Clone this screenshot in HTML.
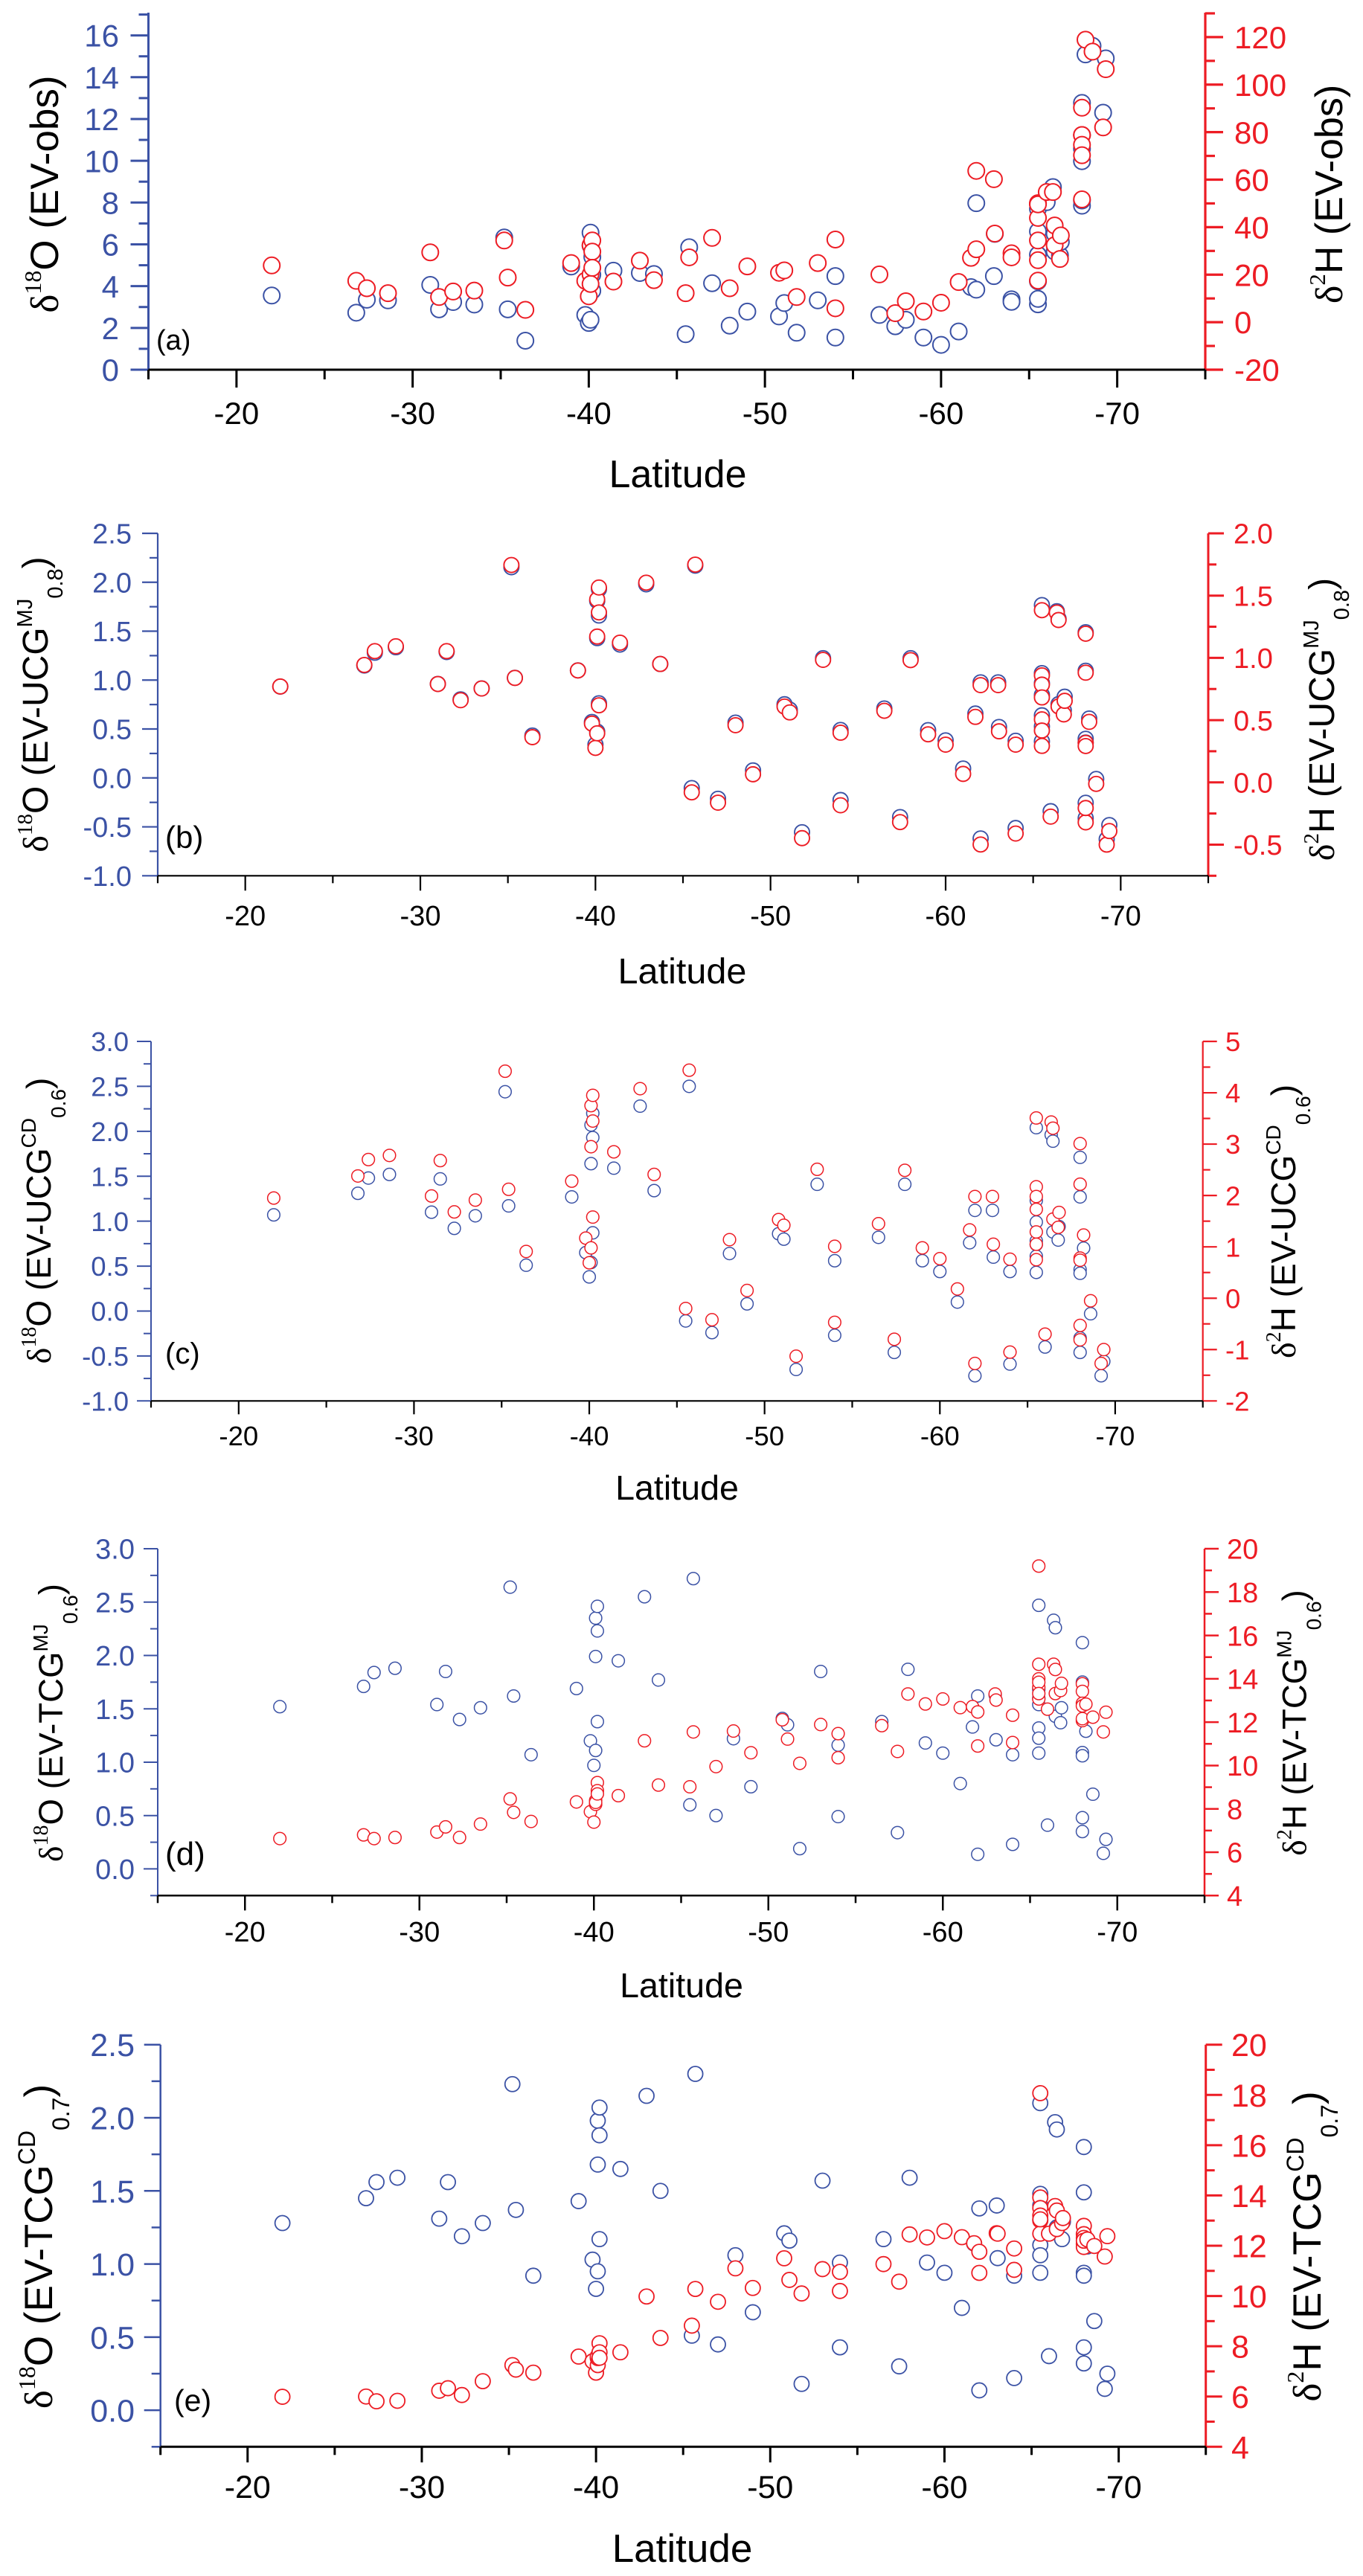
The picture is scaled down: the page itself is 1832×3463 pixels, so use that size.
<!DOCTYPE html>
<html lang="en">
<head>
<meta charset="utf-8">
<title>Isotope differences versus latitude</title>
<style>
html,body{margin:0;padding:0;background:#fff;}
svg{display:block;font-family:"Liberation Sans",sans-serif;}
.s{font-family:"Liberation Serif",serif;}
</style>
</head>
<body>
<svg id="figure" xmlns="http://www.w3.org/2000/svg" width="1832" height="3463" viewBox="0 0 1832 3463">
<rect x="0" y="0" width="1832" height="3463" fill="#fff"/>

<text transform="translate(78,261) rotate(-90)" text-anchor="middle" font-size="53"><tspan class="s">δ</tspan><tspan class="s" font-size="32" dy="-23">18</tspan><tspan dy="23">O (EV-obs)</tspan></text>
<text transform="translate(1804,261) rotate(-90)" text-anchor="middle" font-size="52"><tspan class="s">δ</tspan><tspan class="s" font-size="31" dy="-23">2</tspan><tspan dy="23">H (EV-obs)</tspan></text>
<text x="911" y="655" text-anchor="middle" font-size="52">Latitude</text>
<text x="210" y="470" font-size="38">(a)</text>

<text transform="translate(64,947) rotate(-90)" text-anchor="middle" font-size="48"><tspan class="s">δ</tspan><tspan class="s" font-size="29" dy="-21">18</tspan><tspan dy="21">O (EV-UCG</tspan><tspan font-size="29" dy="-21">MJ</tspan><tspan font-size="29" dy="41">0.8</tspan><tspan dy="-20">)</tspan></text>
<text transform="translate(1793,967) rotate(-90)" text-anchor="middle" font-size="48"><tspan class="s">δ</tspan><tspan class="s" font-size="29" dy="-21">2</tspan><tspan dy="21">H (EV-UCG</tspan><tspan font-size="29" dy="-21">MJ</tspan><tspan font-size="29" dy="41">0.8</tspan><tspan dy="-20">)</tspan></text>
<text x="917" y="1322" text-anchor="middle" font-size="48.6">Latitude</text>
<text x="222" y="1140" font-size="42">(b)</text>

<text transform="translate(68,1641) rotate(-90)" text-anchor="middle" font-size="46"><tspan class="s">δ</tspan><tspan class="s" font-size="28" dy="-20">18</tspan><tspan dy="20">O (EV-UCG</tspan><tspan font-size="28" dy="-20">CD</tspan><tspan font-size="28" dy="40">0.6</tspan><tspan dy="-20">)</tspan></text>
<text transform="translate(1741,1642) rotate(-90)" text-anchor="middle" font-size="46"><tspan class="s">δ</tspan><tspan class="s" font-size="28" dy="-20">2</tspan><tspan dy="20">H (EV-UCG</tspan><tspan font-size="28" dy="-20">CD</tspan><tspan font-size="28" dy="40">0.6</tspan><tspan dy="-20">)</tspan></text>
<text x="910" y="2016" text-anchor="middle" font-size="46.6">Latitude</text>
<text x="222" y="1833" font-size="40">(c)</text>

<text transform="translate(84,2316) rotate(-90)" text-anchor="middle" font-size="45.6"><tspan class="s">δ</tspan><tspan class="s" font-size="28" dy="-20">18</tspan><tspan dy="20">O (EV-TCG</tspan><tspan font-size="28" dy="-20">MJ</tspan><tspan font-size="28" dy="40">0.6</tspan><tspan dy="-20">)</tspan></text>
<text transform="translate(1755.5,2316) rotate(-90)" text-anchor="middle" font-size="45.6"><tspan class="s">δ</tspan><tspan class="s" font-size="28" dy="-20">2</tspan><tspan dy="20">H (EV-TCG</tspan><tspan font-size="28" dy="-20">MJ</tspan><tspan font-size="28" dy="40">0.6</tspan><tspan dy="-20">)</tspan></text>
<text x="916" y="2685" text-anchor="middle" font-size="46.6">Latitude</text>
<text x="222" y="2507" font-size="44">(d)</text>

<text transform="translate(70,3020) rotate(-90)" text-anchor="middle" font-size="53"><tspan class="s">δ</tspan><tspan class="s" font-size="32" dy="-23">18</tspan><tspan dy="23">O (EV-TCG</tspan><tspan font-size="32" dy="-23">CD</tspan><tspan font-size="32" dy="46">0.7</tspan><tspan dy="-23">)</tspan></text>
<text transform="translate(1775,3020) rotate(-90)" text-anchor="middle" font-size="53"><tspan class="s">δ</tspan><tspan class="s" font-size="32" dy="-23">2</tspan><tspan dy="23">H (EV-TCG</tspan><tspan font-size="32" dy="-23">CD</tspan><tspan font-size="32" dy="46">0.7</tspan><tspan dy="-23">)</tspan></text>
<text x="917" y="3444" text-anchor="middle" font-size="53">Latitude</text>
<text x="234" y="3241" font-size="41">(e)</text>
</svg>

<script>
const latitudes = [22,26.8,27.4,28.6,31,31.5,32.3,33.5,35.2,35.4,36.4,39,39.8,40,40.1,40.1,40.1,40.2,40.2,40.2,41.4,42.9,43.7,45.5,45.7,47,48,49,50.8,51.1,51.8,53,54,54,56.5,57.4,58,59,60,61,61.7,62,62,63,63.05,64,64,65.5,65.5,65.5,65.5,65.5,65.5,65.5,66,66.35,66.45,66.45,66.75,66.8,68,68,68,68,68,68,68.2,68.6,69.2,69.35];

const xTickLabels = ['-20','-30','-40','-50','-60','-70'];

const o18PanelA = [3.55,2.73,3.35,3.32,4.06,2.89,3.24,3.12,6.33,2.89,1.39,4.94,2.62,2.24,6.56,5.94,2.39,5.4,4.55,3.78,4.74,4.63,4.58,1.70,5.86,4.14,2.11,2.78,2.55,3.19,1.77,3.32,4.48,1.54,2.62,2.08,2.39,1.54,1.19,1.83,3.95,7.97,3.83,4.48,6.5,3.37,3.25,3.13,3.39,4.23,5.5,6.62,7.93,7.7,8.02,8.74,5.66,6.5,5.47,6.12,12.77,11.23,10.58,9.98,7.85,8.1,15.09,15.5,12.3,14.9];
const h2PanelA = [23.9,17.4,14.3,12.2,29.4,10.6,12.9,13.3,34.4,18.8,5.2,24.9,17.4,10.9,32.4,20.1,16.1,34.4,29.7,22.9,17.1,25.9,17.7,12.2,27.3,35.5,14.3,23.5,20.8,21.8,10.6,24.9,34.8,5.85,20.1,3.8,8.8,4.5,8.2,16.9,27.1,63.7,30.7,60.2,37.3,29,27.3,17.5,26.1,34.4,43.9,50.1,49.9,49.6,54.8,54.8,40.7,32.4,26.6,36.5,90.3,78.8,78.8,74.7,70.3,51.7,118.9,113.9,82,106.5];
const leftTickLabelsA = ['0','2','4','6','8','10','12','14','16'];
const rightTickLabelsA = ['-20','0','20','40','60','80','100','120'];

const o18PanelB = [.934,1.149,1.28,1.336,.961,1.287,.803,.915,2.154,1.023,.433,1.099,.572,.341,1.808,1.429,.473,1.93,1.66,.763,1.363,1.979,1.165,-.104,2.17,-.213,.565,.077,.753,.697,-.555,1.224,.49,-.226,.71,-.40,1.224,.488,.384,.096,.658,.977,-.619,.977,.521,.38,-.512,1.767,1.071,.97,.848,.64,.526,.374,-.34,1.704,1.628,.754,.69,.83,1.489,1.096,-.411,-.254,.4,.362,.607,-.011,-.626,-.482];
const h2PanelB = [.77,.943,1.054,1.093,.79,1.054,.66,.754,1.746,.839,.363,.899,.472,.277,1.469,1.171,.394,1.565,1.365,.619,1.122,1.604,.951,-.08,1.749,-.163,.459,.065,.609,.562,-.448,.984,.399,-.184,.575,-.319,.982,.386,.303,.068,.526,.781,-.499,.781,.41,.303,-.411,1.383,.859,.785,.682,.506,.416,.293,-.275,1.364,1.304,.61,.546,.655,1.194,.881,-.321,-.206,.317,.292,.486,-.012,-.5,-.391];
const leftTickLabelsB = ['-1.0','-0.5','0.0','0.5','1.0','1.5','2.0','2.5'];
const rightTickLabelsB = ['-0.5','0.0','0.5','1.0','1.5','2.0'];

const o18PanelC = [1.07,1.31,1.48,1.52,1.10,1.47,.92,1.06,2.44,1.17,.51,1.27,.65,.38,2.07,1.64,.54,2.20,1.93,.87,1.59,2.28,1.34,-.11,2.50,-.24,.64,.08,.86,.80,-.65,1.41,.56,-.27,.82,-.46,1.41,.56,.44,.10,.76,1.12,-.72,1.12,.60,.44,-.59,2.04,1.23,.99,.74,.61,.43,.78,-.40,1.96,1.89,.88,.79,.94,1.71,1.27,.46,.42,-.30,-.46,.70,-.03,-.72,-.56];
const h2PanelC = [1.95,2.38,2.70,2.78,1.99,2.68,1.68,1.91,4.42,2.12,.91,2.28,1.17,.69,3.75,2.95,.98,3.95,3.45,1.58,2.85,4.08,2.41,-.2,4.44,-.42,1.14,.15,1.53,1.42,-1.13,2.51,1.01,-.47,1.45,-.8,2.49,.98,.77,.18,1.33,1.98,-1.27,1.98,1.05,.76,-1.05,3.51,2.17,1.98,1.73,1.29,1.05,.75,-.70,3.43,3.31,1.54,1.38,1.67,3.01,2.22,.78,.74,-.53,-.81,1.23,-.05,-1.27,-1.0];
const leftTickLabelsC = ['-1.0','-0.5','0.0','0.5','1.0','1.5','2.0','2.5','3.0'];
const rightTickLabelsC = ['-2','-1','0','1','2','3','4','5'];

const o18PanelD = [1.52,1.71,1.84,1.88,1.54,1.85,1.40,1.51,2.64,1.62,1.07,1.69,1.20,.97,2.35,1.99,1.11,2.46,2.23,1.38,1.95,2.55,1.77,.60,2.72,.50,1.22,.77,1.41,1.35,.19,1.85,1.16,.49,1.38,.34,1.87,1.18,1.085,.80,1.33,1.62,.137,1.63,1.21,1.07,.23,2.47,1.68,1.54,1.32,1.225,1.085,1.6,.41,2.33,2.26,1.43,1.37,1.51,2.12,1.75,1.09,1.06,.48,.35,1.29,.70,.146,.277];
const h2PanelD = [6.63,6.8,6.63,6.68,6.93,7.17,6.68,7.3,8.46,7.84,7.42,8.32,7.87,7.39,8.39,8.21,8.3,9.21,8.84,8.69,8.61,11.14,9.1,9.02,11.55,9.95,11.59,10.59,12.11,11.22,10.1,11.89,11.47,10.36,11.84,10.65,13.3,12.84,13.07,12.67,12.72,12.47,10.9,13.3,13.02,12.32,11.06,19.2,14.67,14.0,13.61,13.07,13.84,13.32,12.6,14.67,14.43,13.32,13.46,13.79,13.77,13.42,12.87,12.07,12.16,12.75,12.83,12.23,11.55,12.46];
const leftTickLabelsD = ['0.0','0.5','1.0','1.5','2.0','2.5','3.0'];
const rightTickLabelsD = ['4','6','8','10','12','14','16','18','20'];

const o18PanelE = [1.28,1.45,1.56,1.59,1.31,1.56,1.19,1.28,2.23,1.37,.92,1.43,1.03,.83,1.98,1.68,.95,2.07,1.88,1.17,1.65,2.15,1.50,.51,2.30,.45,1.06,.67,1.21,1.16,.18,1.57,1.01,.43,1.17,.30,1.59,1.01,.94,.70,1.14,1.38,.136,1.40,1.04,.92,.22,2.10,1.48,1.40,1.13,1.06,.94,1.30,.37,1.97,1.92,1.25,1.17,1.29,1.80,1.49,.94,.92,.43,.32,1.12,.61,.146,.25];
const h2PanelE = [5.99,6.0,5.81,5.83,6.23,6.33,6.06,6.61,7.25,7.07,6.95,7.59,7.4,6.95,7.25,7.53,7.6,8.12,7.76,7.54,7.76,9.98,8.33,8.82,10.28,9.77,11.1,10.32,11.5,10.64,10.1,11.07,10.96,10.2,11.27,10.57,12.45,12.33,12.58,12.34,12.1,11.76,10.92,12.5,12.48,11.89,11.04,18.07,13.92,13.5,13.2,13.0,12.48,13.05,12.48,13.58,13.4,12.66,12.9,13.1,12.79,12.46,12.31,12.07,11.95,12.2,12.25,11.99,11.57,12.38];
const leftTickLabelsE = ['0.0','0.5','1.0','1.5','2.0','2.5'];
const rightTickLabelsE = ['4','6','8','10','12','14','16','18','20'];

const BLUE = '#3b52a5';
const RED = '#ed1c24';
const NS = 'http://www.w3.org/2000/svg';
const svg = document.getElementById('figure');

function make(tag, attrs) {
  const node = document.createElementNS(NS, tag);
  for (const k in attrs) node.setAttribute(k, attrs[k]);
  return node;
}

function drawPanel(p) {
  const group = make('g', {});
  
  
  svg.appendChild(group);

  const xScale = lat => p.xL + (lat - 15) * (p.xR - p.xL) / 60;
  const leftScale = v => p.yB - (v - p.leftMin) * (p.yB - p.yT) / (p.leftMax - p.leftMin);
  const rightScale = v => p.yB - (v - p.rightMin) * (p.yB - p.yT) / (p.rightMax - p.rightMin);

  // left axis
  const leftAxis = make('line', {x1:p.xL, x2:p.xL, y1:p.yT, y2:p.yB, stroke:BLUE, 'stroke-width':p.lw});
  
  
  group.appendChild(leftAxis);

  const leftCount = Math.floor((p.leftMax - p.leftMin) / p.leftStep + 1e-6);
  for (let k = 0; k <= leftCount; k++) {
    const v = p.leftMin + k * p.leftStep;
    const isMajor = p.leftLabels.some(s => Math.abs(Number(s) - v) < 1e-6);
    const y = leftScale(v);
    const tick = make('line', {x1:p.xL - (isMajor ? p.major : p.minor), x2:p.xL, y1:y, y2:y, stroke:BLUE, 'stroke-width':p.lw});
    
    
    group.appendChild(tick);
  }
  p.leftLabels.forEach(s => {
    const label = make('text', {x:p.leftEnd, y:leftScale(Number(s)) + p.fs * 0.36, 'text-anchor':'end', 'font-size':p.fs, fill:BLUE});
    label.textContent = s;
    
    
    group.appendChild(label);
  });

  // right axis
  const rightAxis = make('line', {x1:p.xR, x2:p.xR, y1:p.yT, y2:p.yB, stroke:RED, 'stroke-width':p.rw});
  
  
  group.appendChild(rightAxis);

  const rightCount = Math.floor((p.rightMax - p.rightMin) / p.rightStep + 1e-6);
  for (let k = 0; k <= rightCount; k++) {
    const v = p.rightMin + k * p.rightStep;
    const isMajor = p.rightLabels.some(s => Math.abs(Number(s) - v) < 1e-6);
    const y = rightScale(v);
    const tick = make('line', {x1:p.xR, x2:p.xR + (isMajor ? p.major : p.minor), y1:y, y2:y, stroke:RED, 'stroke-width':p.rw});
    
    
    group.appendChild(tick);
  }
  p.rightLabels.forEach(s => {
    const label = make('text', {x:p.rightStart, y:rightScale(Number(s)) + p.fs * 0.36, 'font-size':p.fs, fill:RED});
    label.textContent = s;
    
    
    group.appendChild(label);
  });

  // bottom axis
  const bottomAxis = make('line', {x1:p.xL, x2:p.xR, y1:p.yB, y2:p.yB, stroke:'#000', 'stroke-width':p.bw});
  
  
  group.appendChild(bottomAxis);

  for (let lat = 15; lat <= 75; lat += 5) {
    const isMajor = xTickLabels.some(s => Number(s) === -lat);
    const tick = make('line', {x1:xScale(lat), x2:xScale(lat), y1:p.yB, y2:p.yB + (isMajor ? p.xMajor : p.xMinor), stroke:'#000', 'stroke-width':p.bw});
    
    
    group.appendChild(tick);
  }
  xTickLabels.forEach(s => {
    const label = make('text', {x:xScale(-Number(s)), y:p.xBase, 'text-anchor':'middle', 'font-size':p.fs, fill:'#000'});
    label.textContent = s;
    
    
    group.appendChild(label);
  });

  // series: blue first, red on top; markers are white filled
  latitudes.forEach((lat, i) => {
    const point = make('circle', {cx:xScale(lat), cy:leftScale(p.o18[i]), r:p.r, fill:'#fff', stroke:BLUE, 'stroke-width':p.sw});
    
    
    group.appendChild(point);
  });
  latitudes.forEach((lat, i) => {
    const point = make('circle', {cx:xScale(lat), cy:rightScale(p.h2[i]), r:p.r, fill:'#fff', stroke:RED, 'stroke-width':p.sw});
    
    
    group.appendChild(point);
  });
}

drawPanel({id:'a', xL:199.5, xR:1620, yT:17, yB:497, leftMin:0, leftMax:17.09, leftStep:1, rightMin:-20, rightMax:130.3, rightStep:10,
  o18:o18PanelA, h2:h2PanelA, leftLabels:leftTickLabelsA, rightLabels:rightTickLabelsA,
  lw:3, rw:3.2, bw:3, major:24, minor:13, xMajor:24, xMinor:13, fs:42, leftEnd:160, rightStart:1659, xBase:570, r:11, sw:2});
drawPanel({id:'b', xL:212, xR:1624, yT:717, yB:1177.3, leftMin:-1, leftMax:2.5, leftStep:0.25, rightMin:-0.75, rightMax:2, rightStep:0.25,
  o18:o18PanelB, h2:h2PanelB, leftLabels:leftTickLabelsB, rightLabels:rightTickLabelsB,
  lw:2.2, rw:3, bw:2.2, major:21, minor:11, xMajor:20, xMinor:10, fs:38, leftEnd:177, rightStart:1658, xBase:1244, r:10, sw:1.9});
drawPanel({id:'c', xL:203, xR:1616.7, yT:1400, yB:1883.3, leftMin:-1, leftMax:3, leftStep:0.25, rightMin:-2, rightMax:5, rightStep:0.5,
  o18:o18PanelC, h2:h2PanelC, leftLabels:leftTickLabelsC, rightLabels:rightTickLabelsC,
  lw:2, rw:2.2, bw:2.2, major:19, minor:10, xMajor:18, xMinor:9, fs:36.5, leftEnd:173, rightStart:1647, xBase:1943, r:8.3, sw:1.5});
drawPanel({id:'d', xL:212, xR:1619, yT:2082, yB:2548.3, leftMin:-0.25, leftMax:3, leftStep:0.25, rightMin:4, rightMax:20, rightStep:1,
  o18:o18PanelD, h2:h2PanelD, leftLabels:leftTickLabelsD, rightLabels:rightTickLabelsD,
  lw:2, rw:2.5, bw:2.5, major:19, minor:10, xMajor:20, xMinor:10, fs:38, leftEnd:181, rightStart:1649, xBase:2610, r:8.3, sw:1.5});
drawPanel({id:'e', xL:215.7, xR:1620.7, yT:2748.7, yB:3289.3, leftMin:-0.25, leftMax:2.5, leftStep:0.25, rightMin:4, rightMax:20, rightStep:1,
  o18:o18PanelE, h2:h2PanelE, leftLabels:leftTickLabelsE, rightLabels:rightTickLabelsE,
  lw:2.5, rw:3, bw:3, major:22, minor:12, xMajor:21, xMinor:11, fs:43, leftEnd:181, rightStart:1655, xBase:3358, r:10, sw:1.8});
</script>
</body>
</html>
